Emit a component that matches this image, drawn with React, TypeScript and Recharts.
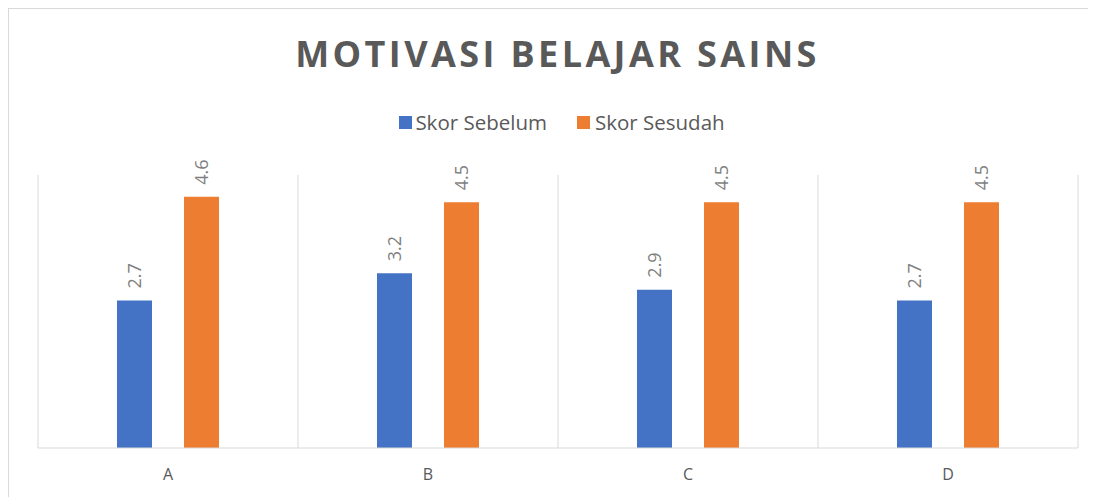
import React from 'react';
import { BarChart, Bar, XAxis, YAxis, CartesianGrid, Legend, LabelList } from 'recharts';

const categories = ['A', 'B', 'C', 'D'];
const skorSebelum = [2.7, 3.2, 2.9, 2.7];
const skorSesudah = [4.6, 4.5, 4.5, 4.5];

const data = categories.map((name, i) => ({
  name,
  sebelum: skorSebelum[i],
  sesudah: skorSesudah[i],
}));

const FONT = '"Open Sans", "Noto Sans", sans-serif';

const VerticalLabel = (props: any) => {
  const { x, y, width, value } = props;
  const cx = x + width / 2;
  const ty = y - 12;
  return (
    <text
      x={cx}
      y={ty}
      transform={`rotate(-90, ${cx}, ${ty})`}
      textAnchor="start"
      dominantBaseline="central"
      fill="#7f7f7f"
      fontSize={18}
      fontFamily={FONT}
    >
      {value}
    </text>
  );
};

const LegendContent = () => (
  <div
    style={{
      display: 'flex',
      justifyContent: 'center',
      paddingLeft: 26,
      fontFamily: FONT,
      fontSize: 20.5,
      color: '#595959',
    }}
  >
    <div style={{ display: 'flex', alignItems: 'center', marginRight: 30 }}>
      <span style={{ width: 13, height: 13, background: '#4472C4', display: 'inline-block', marginRight: 3 }} />
      Skor Sebelum
    </div>
    <div style={{ display: 'flex', alignItems: 'center' }}>
      <span style={{ width: 13, height: 13, background: '#ED7D31', display: 'inline-block', marginRight: 5 }} />
      Skor Sesudah
    </div>
  </div>
);

export default function App() {
  return (
    <div
      style={{
        position: 'relative',
        width: 1083,
        height: 500,
        border: '1px solid #d9d9d9',
        boxSizing: 'border-box',
        background: '#fff',
      }}
    >
      <div
        style={{
          position: 'absolute',
          top: 20,
          left: 8,
          width: 1081,
          textAlign: 'center',
          fontFamily: FONT,
          fontWeight: 700,
          fontSize: 36,
          letterSpacing: 3.4,
          color: '#595959',
        }}
      >
        MOTIVASI BELAJAR SAINS
      </div>
      <BarChart
        width={1080}
        height={488}
        data={data}
        margin={{ top: 166, right: 11, left: 29, bottom: 19 }}
        barGap={32}
        barSize={35}
      >
        <CartesianGrid
          horizontal={false}
          stroke="#d9d9d9"
          verticalCoordinatesGenerator={({ offset }: any) =>
            Array.from({ length: categories.length + 1 }, (_, i) => offset.left + (i * offset.width) / categories.length)
          }
        />
        <XAxis
          dataKey="name"
          height={30}
          tickLine={false}
          axisLine={{ stroke: '#d9d9d9' }}
          tick={{ fill: '#595959', fontSize: 16, fontFamily: FONT }}
          tickMargin={15}
        />
        <YAxis hide domain={[0, 5]} />
        <Legend
          verticalAlign="middle"
          align="center"
          wrapperStyle={{ top: 99, left: 0, width: 1080 }}
          content={<LegendContent />}
        />
        <Bar dataKey="sebelum" name="Skor Sebelum" fill="#4472C4" isAnimationActive={false}>
          <LabelList dataKey="sebelum" content={<VerticalLabel />} />
        </Bar>
        <Bar dataKey="sesudah" name="Skor Sesudah" fill="#ED7D31" isAnimationActive={false}>
          <LabelList dataKey="sesudah" content={<VerticalLabel />} />
        </Bar>
      </BarChart>
    </div>
  );
}
